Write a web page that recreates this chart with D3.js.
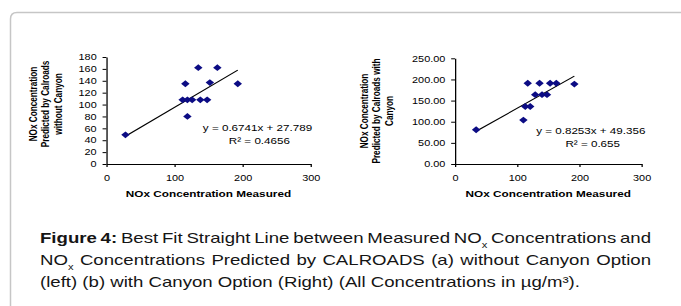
<!DOCTYPE html>
<html>
<head>
<meta charset="utf-8">
<script src="https://cdn.jsdelivr.net/npm/d3@7"></script>
<style>
  body { margin: 0; background: #fff; }
  #wrap { position: relative; width: 681px; height: 306px; overflow: hidden; }
  svg { position: absolute; left: 0; top: 0; }
  .cap { position: absolute; left: 40px; font-family: "Liberation Sans", Arial, sans-serif;
         font-size: 15px; color: #151515; white-space: nowrap; line-height: 15px;
         transform-origin: 0 0; }
  .cap sub { font-size: 9px; vertical-align: -5px; line-height: 0; }
</style>
</head>
<body>
<div id="wrap"></div>
<script>
// values
var leftMeasured   = [28, 116, 135, 163, 152, 193, 112, 119, 126, 138, 148, 119];
var leftPredicted  = [49, 135, 162, 162, 137, 135, 108, 108, 108, 108, 108, 80];
var rightMeasured  = [34, 110, 113, 121, 117, 136, 153, 163, 192, 129, 140, 148];
var rightPredicted = [81, 104, 136, 136, 191, 191, 191, 191, 189, 164, 164, 164];

var xTicks      = [0, 100, 200, 300];
var leftYTicks  = [0, 20, 40, 60, 80, 100, 120, 140, 160, 180];
var rightYTicks = [0, 50, 100, 150, 200, 250];

var fitSlope     = [0.6741, 0.8253];
var fitIntercept = [27.789, 49.356];
var fitEquation  = ["y = 0.6741x + 27.789", "y = 0.8253x + 49.356"];
var fitR2        = ["R\u00b2 = 0.4656", "R\u00b2 = 0.655"];

var leftTitle  = ["NOx Concentration", "Predicted by Calroads", "without Canyon"];
var rightTitle = ["NOx Concentration", "Predicted by Calroads with", "Canyon"];
var xTitle = "NOx Concentration Measured";

var captionLines = [
  "<b>Figure 4:</b> Best Fit Straight Line between Measured NO<sub>x</sub> Concentrations and",
  "NO<sub>x</sub> Concentrations Predicted by CALROADS (a) without Canyon Option",
  "(left) (b) with Canyon Option (Right) (All Concentrations in \u00b5g/m\u00b3)."
];

var stretch = 1.28;   // the figure is squeezed wider than tall
var font = "'Liberation Sans', Arial, sans-serif";

var svg = d3.select("#wrap").append("svg")
    .attr("width", 681)
    .attr("height", 306);

// card outline
svg.append("path")
    .attr("d", "M10.5,306 L10.5,19 Q10.5,12.5 17,12.5 L681,12.5")
    .attr("fill", "none")
    .attr("stroke", "#c6c6c6")
    .attr("stroke-width", 1.5);

var g = svg.append("g").attr("transform", "scale(" + stretch + ",1)");

function drawChart(opt) {
  var x = d3.scaleLinear().domain([0, 300]).range(opt.xRange);
  var y = d3.scaleLinear().domain([0, opt.yMax]).range([164, opt.yTop]);
  var data = opt.xs.map(function(d, i) { return {x: d, y: opt.ys[i]}; });

  var xAxis = g.append("g")
      .attr("transform", "translate(0,164)")
      .call(d3.axisBottom(x).tickValues(xTicks).tickSize(3).tickSizeOuter(0).tickPadding(8));
  var yAxis = g.append("g")
      .attr("transform", "translate(" + opt.xRange[0] + ",0)")
      .call(d3.axisLeft(y).tickValues(opt.yTicks).tickFormat(opt.fmt).tickSize(3).tickSizeOuter(0).tickPadding(4.6));
  [xAxis, yAxis].forEach(function(a) {
    a.selectAll("path, line").attr("stroke", "#000").attr("stroke-width", 1);
    a.selectAll("text").attr("font-family", font).attr("font-size", 8.5).attr("fill", "#000");
  });

  // trend line
  var ext = d3.extent(opt.xs);
  g.append("path")
    .datum(ext)
    .attr("fill", "none")
    .attr("stroke", "#000")
    .attr("stroke-width", 1)
    .attr("d", d3.line()
      .x(function(d) { return x(d); })
      .y(function(d) { return y(opt.slope * d + opt.intercept); }));

  // diamonds
  g.selectAll(null)
    .data(data)
    .enter().append("path")
      .attr("transform", function(d) { return "translate(" + x(d.x) + "," + y(d.y) + ")"; })
      .attr("d", "M0,-3.4L3.3,0L0,3.4L-3.3,0Z")
      .attr("fill", "#0c0c84");

  // equation
  g.append("text")
    .attr("x", opt.eqX).attr("y", opt.eqY)
    .attr("text-anchor", "middle")
    .attr("font-family", font).attr("font-size", 9.1)
    .text(opt.eq);
  g.append("text")
    .attr("x", opt.eqX + 1.5).attr("y", opt.eqY + 13)
    .attr("text-anchor", "middle")
    .attr("font-family", font).attr("font-size", 9.1)
    .text(opt.r2);

  // axis titles
  g.append("text")
    .attr("x", (opt.xRange[0] + opt.xRange[1]) / 2).attr("y", 197)
    .attr("text-anchor", "middle")
    .attr("font-family", font).attr("font-size", 9.2).attr("font-weight", "bold")
    .text(xTitle);

  g.selectAll(null)
    .data(opt.title)
    .enter().append("text")
      .attr("transform", function(d, i) {
        return "translate(" + (opt.titleX + i * 12.5 / stretch) + "," + opt.titleY + ") rotate(-90)";
      })
      .attr("dy", "0.35em")
      .attr("text-anchor", "middle")
      .attr("font-family", font).attr("font-size", 8.2).attr("font-weight", "bold")
      .text(function(d) { return d; });
}

drawChart({
  xs: leftMeasured, ys: leftPredicted,
  xRange: [106.4 / stretch, 310.6 / stretch], yMax: 180, yTop: 57, yTicks: leftYTicks,
  fmt: d3.format("d"),
  slope: fitSlope[0], intercept: fitIntercept[0],
  eq: fitEquation[0], r2: fitR2[0], eqX: 257.5 / stretch, eqY: 130.7,
  title: leftTitle, titleX: 33 / stretch, titleY: 104
});

drawChart({
  xs: rightMeasured, ys: rightPredicted,
  xRange: [455 / stretch, 641.5 / stretch], yMax: 250, yTop: 58.3, yTicks: rightYTicks,
  fmt: d3.format(".2f"),
  slope: fitSlope[1], intercept: fitIntercept[1],
  eq: fitEquation[1], r2: fitR2[1], eqX: 590.8 / stretch, eqY: 134,
  title: rightTitle, titleX: 364 / stretch, titleY: 111
});

// caption: first two lines justified to the full width, last one left aligned
var capScale = 1.24, capWidth = 611;
var wrap = d3.select("#wrap");
captionLines.forEach(function(html, i) {
  var div = wrap.append("div").attr("class", "cap")
      .style("top", (230 + i * 22) + "px")
      .style("transform", "scaleX(" + capScale + ")")
      .html(html);
  if (i < 2) {
    var w = div.node().getBoundingClientRect().width / capScale;
    var gaps = div.node().textContent.split(" ").length - 1;
    div.style("word-spacing", ((capWidth / capScale - w) / gaps) + "px");
  }
});
</script>
</body>
</html>
